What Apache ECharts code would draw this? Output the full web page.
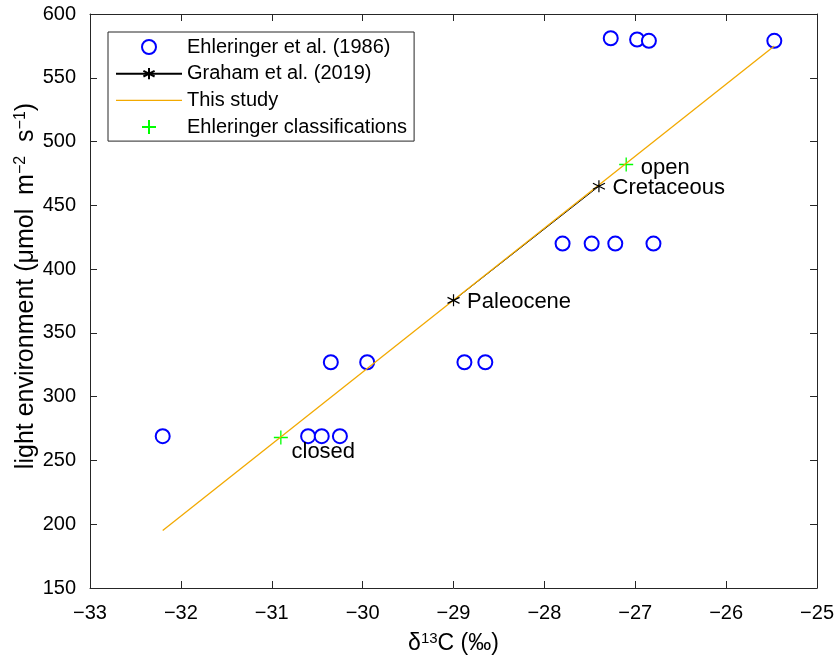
<!DOCTYPE html>
<html>
<head>
<meta charset="utf-8">
<script src="https://cdn.jsdelivr.net/npm/echarts@6/dist/echarts.min.js"></script>
<style>
  * { margin: 0; padding: 0; }
  body { background: #fff; }
</style>
</head>
<body>
<div id="chart" style="width: 837px; height: 660px;"></div>
<script>
// Ehleringer et al. (1986) points
const ehlX = [-32.2, -30.6, -30.45, -30.25, -30.35, -29.95, -28.88, -28.65,
  -27.8, -27.48, -27.22, -26.8, -27.27, -26.98, -26.85, -25.47];
const ehlY = [269, 269, 269, 269, 327, 327, 327, 327,
  420, 420, 420, 420, 581, 580, 579, 579];
// Graham et al. (2019)
const grahamX = [-29.0, -27.4];
const grahamY = [375.5, 465];
const grahamNames = ["Paleocene", "Cretaceous"];
// This study (fit line)
const studyX = [-32.2, -25.47];
const studyY = [195, 575];
// Ehleringer classifications
const classX = [-30.9, -27.1];
const classY = [268, 482];
const classNames = ["closed", "open"];

const xTicks = [-33, -25, 1];
const yTicks = [150, 600, 50];

const font = "'Liberation Sans', Arial, sans-serif";
const axisCol = "#262626";
const asterisk = "path://M0,-1L0,1M-0.866,-0.5L0.866,0.5M-0.866,0.5L0.866,-0.5";
const plus = "path://M0,-1L0,1M-1,0L1,0";
const flatLine = "path://M0,0L66,0L66,1.4L0,1.4Z";

let chart = echarts.init(document.getElementById("chart"));

function xAxisDef(pos, showLabel) {
  return {
    type: "value", position: pos,
    min: xTicks[0], max: xTicks[1], interval: xTicks[2],
    name: showLabel ? "δ{s|13}C (‰)" : "",
    nameLocation: "middle", nameGap: 43,
    nameTextStyle: {
      fontFamily: font, fontSize: 23, color: "#000",
      rich: { s: { fontFamily: font, fontSize: 15, padding: [0, 0, 10, 0] } }
    },
    axisLine: { show: true, onZero: false, lineStyle: { color: axisCol, width: 1 } },
    axisTick: { show: true, inside: true, length: 7, lineStyle: { color: axisCol } },
    axisLabel: {
      show: showLabel, fontFamily: font, fontSize: 20, color: "#000", margin: 15,
      formatter: v => String(v).replace("-", "\u2212")
    },
    splitLine: { show: false }
  };
}
function yAxisDef(pos, showLabel) {
  return {
    type: "value", position: pos,
    min: yTicks[0], max: yTicks[1], interval: yTicks[2],
    axisLine: { show: true, onZero: false, lineStyle: { color: axisCol, width: 1 } },
    axisTick: { show: true, inside: true, length: 7, lineStyle: { color: axisCol } },
    axisLabel: { show: showLabel, fontFamily: font, fontSize: 20, color: "#000", margin: 14 },
    splitLine: { show: false }
  };
}

let option = {
  animation: false,
  backgroundColor: "#fff",
  grid: { left: 90, right: 17, top: 14, bottom: 71 },
  xAxis: [xAxisDef("bottom", true), xAxisDef("top", false)],
  yAxis: [yAxisDef("left", true), yAxisDef("right", false)],
  graphic: [{
    type: "text", x: 26, y: 286, rotation: Math.PI / 2,
    style: {
      text: "light environment (μmol  m{s|−2}  s{s|−1})",
      font: "25px " + font, fill: "#000", align: "center", verticalAlign: "middle",
      rich: { s: { font: "16px " + font, fill: "#000", padding: [0, 0, 10, 0] } }
    }
  }],
  legend: {
    orient: "vertical", left: 108, top: 32,
    itemWidth: 66, itemHeight: 14, itemGap: 6.7,
    padding: [5, 7, 4, 7],
    borderColor: axisCol, borderWidth: 1, backgroundColor: "#fff",
    textStyle: { fontFamily: font, fontSize: 20, lineHeight: 20, color: "#000" },
    data: [
      "Ehleringer et al. (1986)",
      "Graham et al. (2019)",
      { name: "This study", icon: flatLine },
      "Ehleringer classifications"
    ]
  },
  series: [
    {
      name: "Ehleringer et al. (1986)", type: "scatter",
      symbol: "emptyCircle", symbolSize: 14,
      itemStyle: { color: "#0000ff", borderColor: "#0000ff", borderWidth: 1.3, opacity: 1 },
      data: ehlX.map((x, i) => [x, ehlY[i]])
    },
    {
      name: "Graham et al. (2019)", type: "line",
      symbol: asterisk, symbolSize: 12,
      lineStyle: { color: "#000", width: 1 },
      itemStyle: { color: "transparent", borderColor: "#000", borderWidth: 1.2, opacity: 1 },
      label: {
        show: true, position: "right", distance: 7, offset: [0, 2], formatter: "{b}",
        fontFamily: font, fontSize: 22, color: "#000"
      },
      data: grahamX.map((x, i) => ({ name: grahamNames[i], value: [x, grahamY[i]] }))
    },
    {
      name: "This study", type: "line",
      symbol: "none", lineStyle: { color: "#f2a900", width: 1.3 },
      itemStyle: { color: "#f2a900" },
      data: studyX.map((x, i) => [x, studyY[i]])
    },
    {
      name: "Ehleringer classifications", type: "scatter",
      symbol: plus, symbolSize: 14,
      itemStyle: { color: "transparent", borderColor: "#00ff00", borderWidth: 1.3, opacity: 1 },
      label: {
        show: true, position: "right", distance: 7, offset: [0, 3], formatter: "{b}",
        fontFamily: font, fontSize: 22, color: "#000"
      },
      data: classX.map((x, i) => ({
        name: classNames[i], value: [x, classY[i]],
        label: i === 0 ? { position: "right", distance: 3, offset: [0, 14] } : {}
      }))
    }
  ]
};
chart.setOption(option);
</script>
</body>
</html>
